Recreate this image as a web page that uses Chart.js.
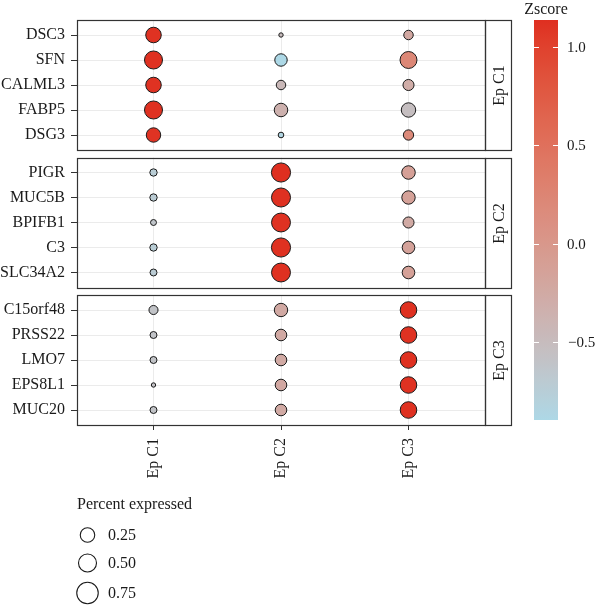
<!DOCTYPE html>
<html>
<head>
<meta charset="utf-8">
<script src="https://cdn.jsdelivr.net/npm/chart.js@4"></script>
<style>
  html, body { margin: 0; padding: 0; background: #fff; }
  #wrap { width: 600px; height: 606px; }
</style>
</head>
<body>
<div id="wrap"><canvas id="dotplot" width="600" height="606"></canvas></div>
<script>
// --- Data ---
const clusters = ['Ep C1', 'Ep C2', 'Ep C3'];
const genesEpC1 = ['DSC3', 'SFN', 'CALML3', 'FABP5', 'DSG3'];
const genesEpC2 = ['PIGR', 'MUC5B', 'BPIFB1', 'C3', 'SLC34A2'];
const genesEpC3 = ['C15orf48', 'PRSS22', 'LMO7', 'EPS8L1', 'MUC20'];
const panelGenes = [genesEpC1, genesEpC2, genesEpC3];
const genes = panelGenes.flat();

// percent expressed per gene (panel order), one array per cluster column
const pctInEpC1 = [0.62, 0.82, 0.62, 0.82, 0.54, 0.16, 0.16, 0.11, 0.16, 0.145, 0.23, 0.145, 0.145, 0.066, 0.145];
const pctInEpC2 = [0.066, 0.41, 0.25, 0.48, 0.10, 0.92, 0.91, 0.90, 0.92, 0.90, 0.47, 0.36, 0.36, 0.36, 0.36];
const pctInEpC3 = [0.25, 0.73, 0.33, 0.54, 0.29, 0.48, 0.47, 0.33, 0.42, 0.42, 0.70, 0.70, 0.70, 0.70, 0.70];

// average expression z-score per gene, one array per cluster column
const zInEpC1 = [1.12, 1.13, 1.12, 1.13, 1.11, -0.74, -0.72, -0.63, -0.74, -0.72, -0.60, -0.60, -0.60, -0.58, -0.60];
const zInEpC2 = [-0.50, -0.90, -0.45, -0.35, -0.85, 1.14, 1.13, 1.12, 1.13, 1.13, -0.24, -0.24, -0.25, -0.23, -0.25];
const zInEpC3 = [-0.23, 0.22, -0.29, -0.53, 0.18, -0.12, -0.14, -0.25, -0.15, -0.13, 1.13, 1.12, 1.13, 1.12, 1.13];

const pctByCluster = [pctInEpC1, pctInEpC2, pctInEpC3];
const zByCluster = [zInEpC1, zInEpC2, zInEpC3];

const zTicks = [-0.5, 0, 0.5, 1.0];
const pctKeys = [0.25, 0.50, 0.75];

// --- Layout helpers (row units) ---
const PANEL_H = panelGenes[0].length - 1 + 1.2;  // ggplot 0.6 expansion
const PANEL_GAP = 0.3;
const panelStart = p => p * (PANEL_H + PANEL_GAP);
const panelEnd = p => panelStart(p) + PANEL_H;
const rowValue = k => panelStart(Math.floor(k / 5)) + 0.6 + (k % 5);

const allZ = zByCluster.flat();
const zMin = Math.min(...allZ), zMax = Math.max(...allZ);

// --- Colour: lightblue -> red gradient in Lab, like ggplot ---
function hexToRgb(h) {
    const n = parseInt(h.slice(1), 16);
    return [(n >> 16) & 255, (n >> 8) & 255, n & 255];
}
function rgbToLab([r, g, b]) {
    const lin = c => { c /= 255; return c <= 0.04045 ? c / 12.92 : Math.pow((c + 0.055) / 1.055, 2.4); };
    const R = lin(r), G = lin(g), B = lin(b);
    const X = (0.4124 * R + 0.3576 * G + 0.1805 * B) / 0.95047;
    const Y = 0.2126 * R + 0.7152 * G + 0.0722 * B;
    const Z = (0.0193 * R + 0.1192 * G + 0.9505 * B) / 1.08883;
    const f = t => t > 0.008856 ? Math.cbrt(t) : 7.787 * t + 16 / 116;
    const fx = f(X), fy = f(Y), fz = f(Z);
    return [116 * fy - 16, 500 * (fx - fy), 200 * (fy - fz)];
}
function labToCss([L, a, b]) {
    const fy = (L + 16) / 116, fx = fy + a / 500, fz = fy - b / 200;
    const inv = t => t * t * t > 0.008856 ? t * t * t : (t - 16 / 116) / 7.787;
    const X = inv(fx) * 0.95047, Y = inv(fy), Z = inv(fz) * 1.08883;
    const gam = c => {
        c = c <= 0.0031308 ? 12.92 * c : 1.055 * Math.pow(c, 1 / 2.4) - 0.055;
        return Math.round(Math.max(0, Math.min(1, c)) * 255);
    };
    const r = gam(3.2406 * X - 1.5372 * Y - 0.4986 * Z);
    const g = gam(-0.9689 * X + 1.8758 * Y + 0.0415 * Z);
    const bl = gam(0.0557 * X - 0.2040 * Y + 1.0570 * Z);
    return `rgb(${r},${g},${bl})`;
}
const LOW = rgbToLab(hexToRgb('#ADD8E6'));
const HIGH = rgbToLab(hexToRgb('#DF2F20'));
function zColor(z) {
    const t = Math.max(0, Math.min(1, (z - zMin) / (zMax - zMin)));
    return labToCss(LOW.map((v, i) => v + (HIGH[i] - v) * t));
}

// point size: area ~ percent
const pointRadius = p => 10.5 * Math.sqrt(p) - 0.5;

const FONT = '"Liberation Serif", "DejaVu Serif", serif';
const INK = '#1a1a1a';
const FRAME = '#333333';

// --- Facet frames, strips, colourbar, size legend ---
const facetPlugin = {
    id: 'facets',
    beforeDatasetsDraw(chart) {
        const { ctx, chartArea: a, scales: { y } } = chart;
        ctx.save();
        // blank the gaps between panels
        ctx.fillStyle = '#fff';
        for (let p = 0; p < panelGenes.length - 1; p++) {
            const y0 = y.getPixelForValue(panelEnd(p));
            const y1 = y.getPixelForValue(panelStart(p + 1));
            ctx.fillRect(a.left, y0, a.right - a.left + 30, y1 - y0);
        }
        ctx.strokeStyle = FRAME;
        ctx.lineWidth = 1.2;
        ctx.font = '16px ' + FONT;
        ctx.fillStyle = INK;
        ctx.textAlign = 'center';
        ctx.textBaseline = 'middle';
        panelGenes.forEach((g, p) => {
            const top = Math.round(y.getPixelForValue(panelStart(p))) + 0.5;
            const bot = Math.round(y.getPixelForValue(panelEnd(p))) + 0.5;
            const l = Math.round(a.left) + 0.5, r = Math.round(a.right) + 0.5;
            ctx.strokeRect(l, top, r - l, bot - top);
            ctx.strokeRect(r, top, 26, bot - top);
            ctx.save();
            ctx.translate(r + 13, (top + bot) / 2);
            ctx.rotate(-Math.PI / 2);
            ctx.fillText(clusters[p], 0, 1);
            ctx.restore();
        });
        ctx.restore();
    },
    afterDraw(chart) {
        const { ctx, chartArea: a } = chart;
        ctx.save();
        // colourbar
        const bx = a.right + 49, bw = 24, bTop = 20, bBot = 420;
        const zPix = z => bBot - (z - zMin) / (zMax - zMin) * (bBot - bTop);
        const grad = ctx.createLinearGradient(0, bBot, 0, bTop);
        for (let i = 0; i <= 40; i++) {
            const t = i / 40;
            grad.addColorStop(t, zColor(zMin + t * (zMax - zMin)));
        }
        ctx.fillStyle = grad;
        ctx.fillRect(bx, bTop, bw, bBot - bTop);
        ctx.strokeStyle = '#fff';
        ctx.lineWidth = 1;
        ctx.font = '15px ' + FONT;
        ctx.fillStyle = INK;
        ctx.textAlign = 'left';
        ctx.textBaseline = 'middle';
        zTicks.forEach(z => {
            const yy = Math.round(zPix(z)) + 0.5;
            ctx.beginPath();
            ctx.moveTo(bx, yy); ctx.lineTo(bx + 5, yy);
            ctx.moveTo(bx + bw - 5, yy); ctx.lineTo(bx + bw, yy);
            ctx.stroke();
            const lbl = (z < 0 ? '\u2212' : '') + Math.abs(z).toFixed(1);
            ctx.fillText(lbl, bx + bw + (z < 0 ? 10 : 9), yy + 1);
        });
        ctx.font = '16px ' + FONT;
        ctx.textAlign = 'center';
        ctx.fillText('Zscore', bx + bw / 2, 10);

        // percent expressed legend
        ctx.textAlign = 'left';
        ctx.fillText('Percent expressed', a.left, 505);
        const keyRadius = p => 6 + 7 * p;
        const keyY = [535, 563, 593];
        ctx.strokeStyle = INK;
        ctx.lineWidth = 1.1;
        pctKeys.forEach((p, i) => {
            ctx.beginPath();
            ctx.arc(a.left + 10.5, keyY[i], keyRadius(p) - 0.5, 0, Math.PI * 2);
            ctx.stroke();
            ctx.fillText(p.toFixed(2), a.left + 31, keyY[i] + 1);
        });
        ctx.restore();
    }
};

const datasets = clusters.map((c, ci) => ({
    label: c,
    data: genes.map((g, k) => ({ x: ci, y: rowValue(k), p: pctByCluster[ci][k], z: zByCluster[ci][k] })),
    pointRadius: ctx => pointRadius(ctx.raw.p),
    backgroundColor: ctx => zColor(ctx.raw.z),
    borderColor: INK,
    borderWidth: 1
}));

new Chart(document.getElementById('dotplot'), {
    type: 'scatter',
    data: { datasets },
    plugins: [facetPlugin],
    options: {
        responsive: false,
        animation: false,
        events: [],
        layout: { padding: { top: 20, right: 115, bottom: 0, left: 0 } },
        plugins: { legend: { display: false }, tooltip: { enabled: false } },
        scales: {
            x: {
                type: 'linear',
                min: -0.6,
                max: clusters.length - 1 + 0.6,
                afterBuildTicks: s => { s.ticks = clusters.map((c, i) => ({ value: i })); },
                afterFit: s => { s.height = 181; },
                grid: { color: '#EBEBEB', lineWidth: 1, tickColor: FRAME, tickLength: 5 },
                border: { display: false },
                ticks: {
                    autoSkip: false,
                    minRotation: 90,
                    maxRotation: 90,
                    padding: 8,
                    color: INK,
                    font: { family: FONT, size: 16 },
                    callback: (v, i) => clusters[i]
                }
            },
            y: {
                type: 'linear',
                reverse: true,
                min: 0,
                max: panelEnd(panelGenes.length - 1),
                afterBuildTicks: s => { s.ticks = genes.map((g, k) => ({ value: rowValue(k) })); },
                afterFit: s => { s.width = 77; },
                grid: { color: '#EBEBEB', lineWidth: 1, tickColor: FRAME, tickLength: 6 },
                border: { display: false },
                ticks: {
                    autoSkip: false,
                    padding: 6,
                    color: INK,
                    font: { family: FONT, size: 16 },
                    callback: (v, i) => genes[i]
                }
            }
        }
    }
});
</script>
</body>
</html>
